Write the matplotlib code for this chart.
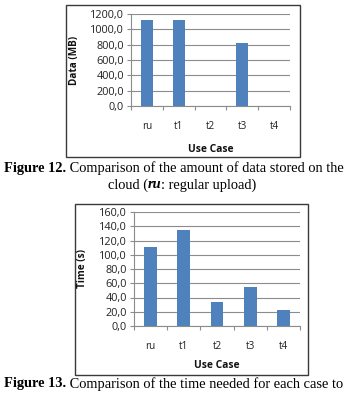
import matplotlib
matplotlib.use("Agg")
import matplotlib.pyplot as plt
from matplotlib.patches import Rectangle
from matplotlib.ticker import FuncFormatter, FixedLocator

cases = ["ru", "t1", "t2", "t3", "t4"]
data_mb = [1120, 1120, 0, 820, 0]
time_s = [111, 135, 33, 55, 23]
data_ticks = [0, 200, 400, 600, 800, 1000, 1200]
time_ticks = [0, 20, 40, 60, 80, 100, 120, 140, 160]

W, H = 354, 393
fig = plt.figure(figsize=(W / 100, H / 100), dpi=100)
fig.patch.set_facecolor("white")
renderer = fig.canvas.get_renderer()

BAR = "#4F81BD"
GRID = "#8C8C8C"
SANS = ["Open Sans", "DejaVu Sans"]
SERIF = ["Liberation Serif", "DejaVu Serif"]
CAP = 10.4


def fx(px):
    return px / W


def fy(py):
    return 1 - py / H


def box(x0, y0, x1, y1):
    fig.patches.append(Rectangle((fx(x0), fy(y1)), fx(x1) - fx(x0), fy(y0) - fy(y1),
                                 transform=fig.transFigure, fill=False,
                                 edgecolor="#3a3a3a", linewidth=1.0))


def chart(rect, values, ticks, ylabel, ylab_x, xlab_y):
    l, t, r, b = rect
    ax = fig.add_axes([fx(l), fy(b), fx(r) - fx(l), fy(t) - fy(b)])
    x = list(range(len(cases)))
    ax.bar(x, values, width=0.38, color=BAR, zorder=3)
    ax.set_xlim(-0.5, len(cases) - 0.5)
    ax.set_ylim(ticks[0], ticks[-1])
    ax.set_yticks(ticks)
    ax.yaxis.set_major_formatter(FuncFormatter(lambda v, p: f"{v:.1f}".replace(".", ",")))
    ax.set_xticks(x)
    ax.set_xticklabels(cases)
    ax.xaxis.set_minor_locator(FixedLocator([i - 0.5 for i in range(len(cases) + 1)]))
    ax.tick_params(axis="x", which="major", length=0, pad=11, labelsize=7.2, labelcolor="#222222")
    ax.tick_params(axis="x", which="minor", length=3, color=GRID, width=0.8)
    ax.tick_params(axis="y", length=3, color=GRID, width=0.8, labelsize=7.8, pad=2,
                   labelcolor="#222222")
    for lab in ax.get_xticklabels() + ax.get_yticklabels():
        lab.set_family(SANS)
    ax.grid(axis="y", color=GRID, linewidth=0.8, zorder=0)
    for s in ["top", "right"]:
        ax.spines[s].set_visible(False)
    for s in ["left", "bottom"]:
        ax.spines[s].set_color(GRID)
        ax.spines[s].set_linewidth(0.8)
    ax.set_facecolor("none")
    fig.text(fx(ylab_x), fy((t + b) / 2), ylabel, rotation=90, ha="center", va="center",
             fontsize=7.2, fontweight="bold", family=SANS, color="#111111")
    fig.text(fx((l + r) / 2), fy(xlab_y), "Use Case", ha="center", va="center",
             fontsize=7.4, fontweight="bold", family=SANS, color="#111111")
    return ax


def runs(parts, y, x0=None, center=None):
    """parts: list of (text, weight, style)"""
    objs = []
    for txt, wt, st in parts:
        objs.append(fig.text(0, fy(y), txt, ha="left", va="center", fontsize=CAP,
                             fontweight=wt, style=st, family=SERIF))
    widths = [o.get_window_extent(renderer).width for o in objs]
    total = sum(widths)
    x = x0 if x0 is not None else center - total / 2
    for o, w in zip(objs, widths):
        o.set_x(fx(x))
        x += w


# Chart 1
box(66, 5, 300, 157)
chart((131, 14, 290, 106), data_mb, data_ticks, "Data (MB)", 75, 149)

# Caption 1
runs([("Figure 12.", "bold", "normal"),
      (" Comparison of the amount of data stored on the", "normal", "normal")], 168, x0=4)
runs([("cloud (", "normal", "normal"), ("ru", "bold", "italic"),
      (": regular upload)", "normal", "normal")], 185, center=182)

# Chart 2
box(75, 204, 308, 375)
chart((134, 212, 300, 326), time_s, time_ticks, "Time (s)", 82, 366)

# Caption 2
runs([("Figure 13.", "bold", "normal"),
      (" Comparison of the time needed for each case to", "normal", "normal")], 384, x0=4)

fig.savefig("out.png", dpi=100)
